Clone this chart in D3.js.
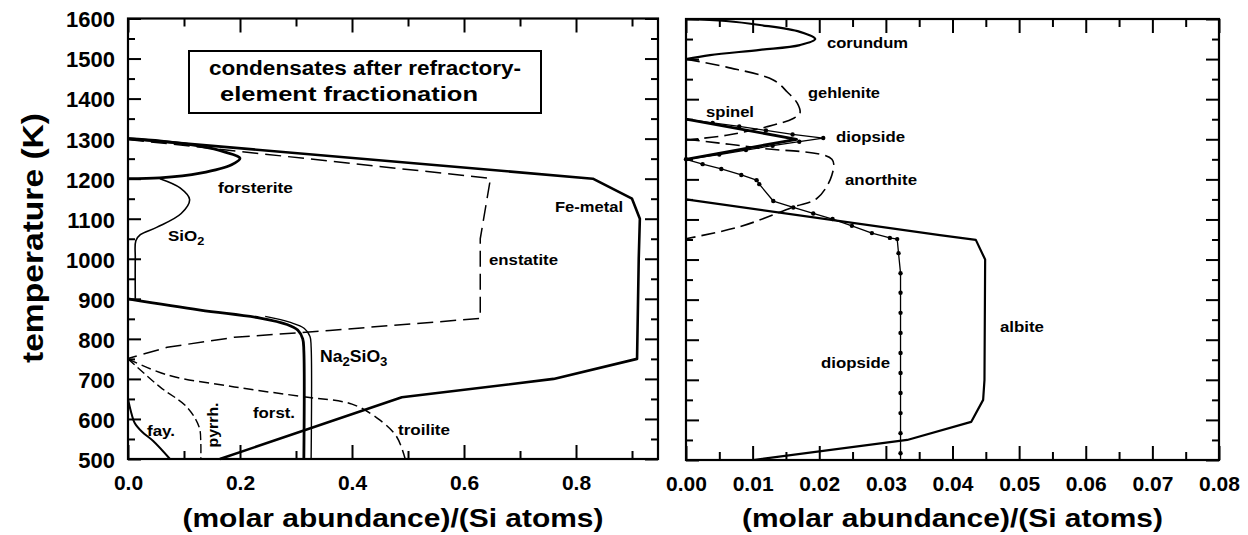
<!DOCTYPE html>
<html><head><meta charset="utf-8">
<script src="https://cdn.jsdelivr.net/npm/d3@7"></script>
<style>
body{margin:0;background:#fff}
svg{display:block}
text{font-family:"Liberation Sans",Arial,Helvetica,sans-serif;font-weight:bold;fill:#000}
</style>
</head><body>
<svg id="c" width="1248" height="535"></svg>
<script>
// ---------- DATA ----------
const yMajorTicks = d3.range(500, 1601, 100);
const yMinorTicks = d3.range(550, 1600, 100);
const leftXMajorTicks = [0, 0.2, 0.4, 0.6, 0.8];
const leftXMinorTicks = [0.1, 0.3, 0.5, 0.7, 0.9];
const rightXMajorTicks = [0, 0.01, 0.02, 0.03, 0.04, 0.05, 0.06, 0.07, 0.08];
const rightXMinorTicks = [0.005, 0.015, 0.025, 0.035, 0.045, 0.055, 0.065, 0.075];

// left panel series: [abundance, temperature K]
const feMetal = [[0,1300],[0.83,1200],[0.9,1150],[0.914,1100],[0.912,1000],[0.909,750],[0.76,700],[0.489,654],[0.164,500]];
const forsteriteHigh = [[0,1300],[0.06,1294],[0.129,1281],[0.172,1267],[0.2,1251],[0.185,1235],[0.129,1214],[0.057,1202],[0,1200]];
const forsteriteLow = [[0,900],[0.129,872],[0.236,852],[0.284,836],[0.303,822],[0.312,800],[0.314,770],[0.314,500]];
const na2sio3 = [[0.245,856],[0.29,841],[0.315,826],[0.325,806],[0.327,780],[0.327,500]];
const sio2 = [[0.057,1200],[0.093,1177],[0.11,1148],[0.095,1113],[0.052,1079],[0.022,1060],[0.014,1045],[0.013,1000],[0.013,900]];
const enstatite = [[0,1298],[0.646,1201],[0.646,1190],[0.629,1050],[0.629,851],[0.36,821],[0.19,804],[0.07,779],[0,751]];
const troilite = [[0,750],[0.07,710],[0.19,680],[0.31,656],[0.40,637],[0.45,597],[0.48,555],[0.495,500]];
const pyrrhotite = [[0,750],[0.057,680],[0.105,630],[0.127,580],[0.13,540],[0.13,500]];
const fayalite = [[0,650],[0.005,620],[0.012,590],[0.025,568],[0.045,545],[0.075,500]];

// right panel series
const corundum = [[0,1600],[0.006,1595],[0.0111,1585],[0.0171,1568],[0.0194,1550],[0.0171,1535],[0.0111,1523],[0.0036,1510],[0,1500]];
const gehlenite = [[0,1500],[0.0061,1480],[0.0131,1448],[0.0152,1418],[0.0167,1390],[0.0171,1365],[0.0161,1352],[0.0121,1331],[0.0061,1310],[0,1298]];
const spinel = [[0,1350],[0.0166,1300],[0,1250]];
const diopside = [[0,1350],[0.004,1341],[0.008,1332],[0.012,1322],[0.016,1312],[0.0206,1303],[0.017,1294],[0.013,1284],[0.009,1273],[0.005,1262],[0,1250],
  [0.0025,1238],[0.0053,1226],[0.0083,1211],[0.0106,1198],[0.011,1188],[0.0131,1146],[0.0161,1130],[0.0191,1115],[0.022,1101],[0.0249,1084],[0.0279,1066],[0.0306,1054],[0.0317,1051],
  [0.0319,1016],[0.0322,966],[0.0322,917],[0.0322,867],[0.0322,817],[0.0322,767],[0.0322,717],[0.0322,667],[0.0322,617],[0.0322,567],[0.0322,517],[0.0322,500]];
const anorthite = [[0,1300],[0.011,1278],[0.0219,1250],[0.0219,1211],[0.0197,1153],[0.0161,1131],[0.0081,1082],[0,1052]];
const albite = [[0,1150],[0.0381,1061],[0.0435,1049],[0.0449,1000],[0.0448,700],[0.0446,650],[0.0428,595],[0.0332,550],[0.0101,500]];

const xTitle = "(molar abundance)/(Si atoms)";
const yTitle = "temperature (K)";
const boxLines = ["condensates after refractory-", "element fractionation"];

// ---------- DRAW ----------
const svg = d3.select("#c");

function panel(opt) {
  const x = d3.scaleLinear().domain(opt.xDomain).range([opt.x0, opt.x1]);
  const y = d3.scaleLinear().domain([500, 1600]).range([opt.y1, opt.y0]);
  const g = svg.append("g");
  const curves = g.append("g").attr("fill", "none").attr("stroke", "#000").attr("stroke-linejoin", "round");
  // axes
  const ax = g.append("g");
  const mk = (axis, tx, ty) => {
    const a = ax.append("g").attr("transform", `translate(${tx},${ty})`).call(axis);
    a.select(".domain").remove();
    a.selectAll("line").attr("stroke", "#000").attr("stroke-width", 2);
    return a;
  };
  const bottom = mk(d3.axisBottom(x).tickValues(opt.xMajor).tickSize(-14).tickPadding(16).tickFormat(d3.format(opt.xFmt)), 0, opt.y1);
  bottom.selectAll("text").attr("font-size", 21).attr("font-weight", "bold").attr("font-family", "Liberation Sans, Arial, sans-serif");
  mk(d3.axisBottom(x).tickValues(opt.xMinor).tickSize(-8).tickFormat(""), 0, opt.y1);
  mk(d3.axisTop(x).tickValues(opt.xMajor).tickSize(-14).tickFormat(""), 0, opt.y0);
  mk(d3.axisTop(x).tickValues(opt.xMinor).tickSize(-8).tickFormat(""), 0, opt.y0);
  const left = mk(d3.axisLeft(y).tickValues(yMajorTicks).tickSize(-13).tickPadding(13).tickFormat(opt.yLabels ? d3.format("d") : ""), opt.x0, 0);
  left.selectAll("text").attr("font-size", 22).attr("font-weight", "bold").attr("dy", "0.38em").attr("font-family", "Liberation Sans, Arial, sans-serif");
  mk(d3.axisLeft(y).tickValues(yMinorTicks).tickSize(-7).tickFormat(""), opt.x0, 0);
  mk(d3.axisRight(y).tickValues(yMajorTicks).tickSize(-13).tickFormat(""), opt.x1, 0);
  mk(d3.axisRight(y).tickValues(yMinorTicks).tickSize(-7).tickFormat(""), opt.x1, 0);
  ax.append("rect").attr("x", opt.x0).attr("y", opt.y0).attr("width", opt.x1 - opt.x0).attr("height", opt.y1 - opt.y0)
    .attr("fill", "none").attr("stroke", "#000").attr("stroke-width", 2.2);
  // x title
  g.append("text").attr("x", (opt.x0 + opt.x1) / 2).attr("y", 527).attr("text-anchor", "middle")
    .attr("font-size", 26).attr("textLength", 421).attr("lengthAdjust", "spacingAndGlyphs").text(xTitle);

  const draw = (data, w, dash, smooth) => {
    const line = d3.line().x(d => x(d[0])).y(d => y(d[1])).curve(smooth ? d3.curveCatmullRom.alpha(0.5) : d3.curveLinear);
    curves.append("path").datum(data).attr("d", line).attr("stroke-width", w).attr("stroke-dasharray", dash || null);
  };
  return {x, y, g, draw, curves};
}

function label(txt, x0, x1, base, size) {
  svg.append("text").attr("x", x0).attr("y", base).attr("font-size", size || 15)
    .attr("textLength", x1 - x0).attr("lengthAdjust", "spacingAndGlyphs").text(txt);
}
function subLabel(parts, x, base, size, sx) {
  const t = svg.append("text").attr("transform", `translate(${x},${base}) scale(${sx},1)`).attr("font-size", size);
  parts.forEach(p => {
    const ts = t.append("tspan").text(p[0]);
    if (p[1]) ts.attr("font-size", size * 0.75).attr("dy", size * 0.25);
    else ts.attr("dy", p[2] ? -size * 0.25 : 0);
  });
}

// Left panel
const L = panel({x0: 128, x1: 658, y0: 18.5, y1: 459, xDomain: [0, 0.9464], xMajor: leftXMajorTicks, xMinor: leftXMinorTicks, xFmt: ".1f", yLabels: true});
L.draw(troilite, 1.5, "10,5", true);
L.draw(pyrrhotite, 1.4, "9,4", true);
L.draw(enstatite, 1.5, "16,7", false);
L.draw(fayalite, 2, null, true);
L.draw(sio2, 1.6, null, true);
L.draw(na2sio3, 1.4, null, true);
L.draw(feMetal, 2.6, null, false);
L.draw(forsteriteHigh, 2.8, null, true);
L.draw(forsteriteLow, 2.8, null, true);

// title box
svg.append("rect").attr("x", 189).attr("y", 51).attr("width", 352).attr("height", 62).attr("fill", "#fff").attr("stroke", "#000").attr("stroke-width", 2);
label(boxLines[0], 209, 521, 75, 20);
label(boxLines[1], 220, 478, 101, 20);

// Right panel
const R = panel({x0: 686, x1: 1219, y0: 19, y1: 460, xDomain: [0, 0.08], xMajor: rightXMajorTicks, xMinor: rightXMinorTicks, xFmt: ".2f", yLabels: false});
R.draw(gehlenite, 1.6, "14,6", true);
R.draw(anorthite, 1.6, "14,6", true);
R.draw(corundum, 2.2, null, true);
R.draw(albite, 2.2, null, false);
R.draw(spinel, 2.8, null, false);
R.draw(diopside, 1.3, null, false);
R.curves.append("g").attr("stroke", "none").attr("fill", "#000").selectAll("circle")
  .data(diopside.slice(1, -1)).join("circle")
  .attr("cx", d => R.x(d[0])).attr("cy", d => R.y(d[1])).attr("r", 2.2);

// y title
svg.append("text").attr("transform", "translate(43,238) rotate(-90)").attr("text-anchor", "middle")
  .attr("font-size", 30).attr("textLength", 250).attr("lengthAdjust", "spacingAndGlyphs").text(yTitle);

// curve labels (left)
label("forsterite", 218, 293, 193);
subLabel([["SiO"], ["2", true]], 168, 241, 15, 1.13);
label("Fe-metal", 555, 623, 212);
label("enstatite", 489, 558, 265);
subLabel([["Na"], ["2", true], ["SiO", false, true], ["3", true]], 320, 362, 16, 1.1);
label("troilite", 398, 450, 435);
label("forst.", 253, 295, 418);
label("fay.", 147, 175, 436);
svg.append("text").attr("transform", "translate(217.5,425) rotate(-90)").attr("text-anchor", "middle")
  .attr("font-size", 15).attr("textLength", 45).attr("lengthAdjust", "spacingAndGlyphs").text("pyrrh.");
// curve labels (right)
label("corundum", 827, 908, 48);
label("gehlenite", 808, 880, 98);
label("spinel", 706, 754, 117);
label("diopside", 836, 905, 142);
label("anorthite", 845, 917, 185);
label("diopside", 821, 890, 368);
label("albite", 1000, 1044, 332);
</script>
</body></html>
